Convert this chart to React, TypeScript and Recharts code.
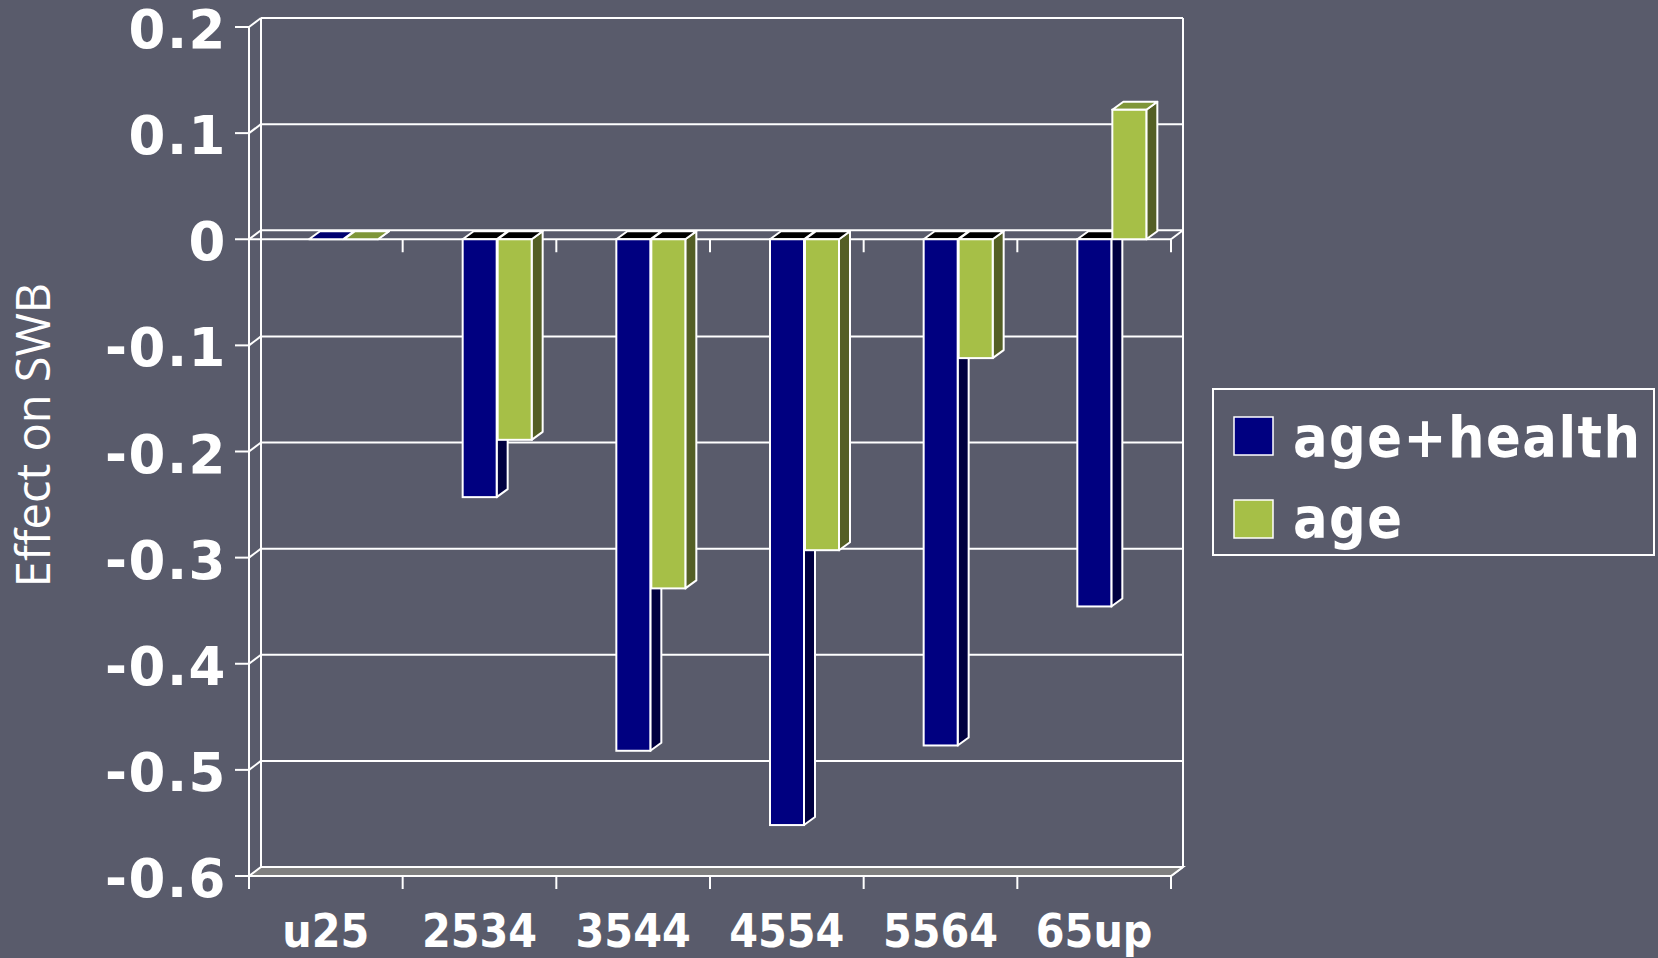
import React from 'react';
import { BarChart, Bar, XAxis, YAxis, ReferenceLine, ReferenceArea, Legend } from 'recharts';

const categories = ['u25', '2534', '3544', '4554', '5564', '65up'];
const ageHealth = [0, -0.243, -0.482, -0.552, -0.477, -0.346];
const ageOnly = [0, -0.189, -0.329, -0.293, -0.112, 0.122];
const yTicks = [-0.6, -0.5, -0.4, -0.3, -0.2, -0.1, 0, 0.1, 0.2];
const seriesNames = ['age+health', 'age'];
const axisTitle = 'Effect on SWB';

const data = categories.map((c, i) => ({ cat: c, ah: ageHealth[i], a: ageOnly[i] }));

const W = 1658;
const H = 958;
const BG = '#595b6b';
const WHITE = '#ffffff';
const WALL_DX = 12;
const WALL_DY = -9;
const BAR_DX = 11;
const BAR_DY = -8;
const BAR_SHIFT = 18;

const BLUE = { front: '#000080', side: '#000040', top: '#000070' };
const GREEN = { front: '#A6BF47', side: '#545F25', top: '#7F9638' };

function make3D(key: string, col: { front: string; side: string; top: string }) {
  return (p: any) => {
    const { x, y, width, height, payload } = p;
    if (x == null || y == null) return null;
    const v = payload ? payload[key] : 0;
    const a = y;
    const b = y + (height || 0);
    const top = Math.min(a, b);
    const bot = Math.max(a, b);
    const y0 = v < 0 ? top : bot;
    const yv = v < 0 ? bot : top;
    const xl = x + BAR_SHIFT;
    const w = width;
    const xr = xl + w;
    const side = `${xr},${yv} ${xr + BAR_DX},${yv + BAR_DY} ${xr + BAR_DX},${y0 + BAR_DY} ${xr},${y0}`;
    const yt = top;
    const topFace = `${xl},${yt} ${xl + BAR_DX},${yt + BAR_DY} ${xr + BAR_DX},${yt + BAR_DY} ${xr},${yt}`;
    return (
      <g>
        <polygon points={side} fill={col.side} stroke={WHITE} strokeWidth={2} strokeLinejoin="round" />
        <polygon points={topFace} fill={v < 0 ? '#000000' : col.top} stroke={WHITE} strokeWidth={2} strokeLinejoin="round" />
        <rect x={xl} y={top} width={w} height={bot - top} fill={col.front} stroke={WHITE} strokeWidth={2} />
      </g>
    );
  };
}

const blueShape = make3D('ah', BLUE);
const greenShape = make3D('a', GREEN);

const GridShape = (p: any) => {
  const { x1, y1, x2 } = p;
  if (x1 == null) return null;
  return (
    <g>
      <line x1={x1} y1={y1} x2={x1 + WALL_DX} y2={y1 + WALL_DY} stroke={WHITE} strokeWidth={2} />
      <line x1={x1 + WALL_DX} y1={y1 + WALL_DY} x2={x2 + WALL_DX} y2={y1 + WALL_DY} stroke={WHITE} strokeWidth={2} />
    </g>
  );
};

const FloorShape = (p: any) => {
  const { x1, y1, x2 } = p;
  if (x1 == null) return null;
  const pts = `${x1},${y1} ${x2},${y1} ${x2 + WALL_DX},${y1 + WALL_DY} ${x1 + WALL_DX},${y1 + WALL_DY}`;
  return <polygon points={pts} fill="#808080" stroke={WHITE} strokeWidth={2} />;
};

const ZeroShape = (p: any) => {
  const { x1, y1, x2 } = p;
  if (x1 == null) return null;
  const n = categories.length;
  const step = (x2 - x1) / n;
  const ticks = [];
  for (let i = 0; i <= n; i++) {
    const tx = x1 + i * step;
    ticks.push(<line key={i} x1={tx} y1={y1} x2={tx} y2={y1 + 13} stroke={WHITE} strokeWidth={2} />);
  }
  return (
    <g>
      <line x1={x1} y1={y1} x2={x1 + WALL_DX} y2={y1 + WALL_DY} stroke={WHITE} strokeWidth={2} />
      <line x1={x1 + WALL_DX} y1={y1 + WALL_DY} x2={x2 + WALL_DX} y2={y1 + WALL_DY} stroke={WHITE} strokeWidth={2} />
      <line x1={x2} y1={y1} x2={x2 + WALL_DX} y2={y1 + WALL_DY} stroke={WHITE} strokeWidth={2} />
      <line x1={x1} y1={y1} x2={x2} y2={y1} stroke={WHITE} strokeWidth={2} />
      {ticks}
    </g>
  );
};

const WallShape = (p: any) => {
  const { x, y, width, height } = p;
  if (x == null) return null;
  return (
    <g>
      <line x1={x + WALL_DX} y1={y + WALL_DY} x2={x + WALL_DX} y2={y + height + WALL_DY} stroke={WHITE} strokeWidth={2} />
      <line x1={x + width + WALL_DX} y1={y + WALL_DY} x2={x + width + WALL_DX} y2={y + height + WALL_DY} stroke={WHITE} strokeWidth={2} />
      <line x1={x + width} y1={y + height} x2={x + width + WALL_DX} y2={y + height + WALL_DY} stroke={WHITE} strokeWidth={2} />
    </g>
  );
};

const YTick = (p: any) => {
  const { x, y, payload } = p;
  const v = payload.value;
  const label = Math.abs(v) < 1e-9 ? '0' : v.toFixed(1);
  return (
    <text x={x} y={y} dy={21} textAnchor="end" fill={WHITE} fontFamily="'DejaVu Sans', sans-serif" fontWeight="bold" fontSize={53} letterSpacing={1.5}>
      {label}
    </text>
  );
};

const XTick = (p: any) => {
  const { x, y, payload, index, width } = p;
  const half = payload && payload.offset != null ? payload.offset : width / categories.length / 2;
  const lx = x - half;
  const rx = x + half;
  return (
    <g>
      <line x1={lx} y1={y - 13} x2={lx} y2={y} stroke={WHITE} strokeWidth={2} />
      {index === categories.length - 1 ? <line x1={rx} y1={y - 13} x2={rx} y2={y} stroke={WHITE} strokeWidth={2} /> : null}
      <text x={x} y={y} dy={58} textAnchor="middle" fill={WHITE} fontFamily="'DejaVu Sans Condensed', 'DejaVu Sans', sans-serif" fontWeight="bold" fontSize={46}>
        {payload.value}
      </text>
    </g>
  );
};

const AxisTitle = () => (
  <text x={50} y={435} transform="rotate(-90, 50, 435)" textAnchor="middle" fill={WHITE} fontFamily="'Open Sans', sans-serif" fontSize={47}>
    {axisTitle}
  </text>
);

const LegendBox = (props: any) => {
  const raw = props.payload && props.payload.length ? props.payload : seriesNames.map((n, i) => ({ value: n, color: i === 0 ? BLUE.front : GREEN.front }));
  const payload = [...raw].sort((a: any, b: any) => seriesNames.indexOf(a.value) - seriesNames.indexOf(b.value));
  return (
    <svg width={443} height={168} style={{ display: 'block' }}>
      <rect x={1} y={1} width={441} height={166} fill="none" stroke={WHITE} strokeWidth={2} />
      {payload.map((e: any, i: number) => (
        <g key={i}>
          <rect x={22} y={29 + i * 83} width={39} height={38} fill={e.color} stroke={WHITE} strokeWidth={1.5} />
          <text x={81} y={69 + i * 81} fill={WHITE} fontFamily="'DejaVu Sans Condensed', 'DejaVu Sans', sans-serif" fontWeight="bold" fontSize={57} letterSpacing={1.5}>
            {e.value}
          </text>
        </g>
      ))}
    </svg>
  );
};

export default function App() {
  return (
    <div style={{ position: 'absolute', left: 0, top: 0, width: W, height: H, background: BG, overflow: 'hidden' }}>
      <BarChart width={W} height={H} data={data} margin={{ top: 27, right: 487, bottom: 0, left: 0 }} barSize={34} barGap={1}>
        <ReferenceArea y1={-0.6} y2={0.2} shape={WallShape} zIndex={-100} />
        {yTicks.map((v) => (
          <ReferenceLine key={v} y={v} shape={v === -0.6 ? FloorShape : v === 0 ? ZeroShape : GridShape} zIndex={-100} />
        ))}
        <XAxis
          dataKey="cat"
          type="category"
          interval={0}
          height={82}
          tickSize={13}
          tickMargin={0}
          tickLine={false}
          axisLine={{ stroke: WHITE, strokeWidth: 2 }}
          tick={<XTick />}
        />
        <YAxis
          type="number"
          domain={[-0.6, 0.2]}
          ticks={yTicks}
          interval={0}
          width={249}
          tickSize={14}
          tickMargin={8}
          tickLine={{ stroke: WHITE, strokeWidth: 2 }}
          axisLine={{ stroke: WHITE, strokeWidth: 2 }}
          tick={<YTick />}
          label={<AxisTitle />}
        />
        <Bar dataKey="ah" name={seriesNames[0]} fill={BLUE.front} shape={blueShape} isAnimationActive={false} />
        <Bar dataKey="a" name={seriesNames[1]} fill={GREEN.front} shape={greenShape} isAnimationActive={false} />
        <Legend
          layout="vertical"
          align="center"
          verticalAlign="middle"
          wrapperStyle={{ position: 'absolute', left: 1212, top: 388, width: 443, height: 168 }}
          content={<LegendBox />}
        />
      </BarChart>
    </div>
  );
}
